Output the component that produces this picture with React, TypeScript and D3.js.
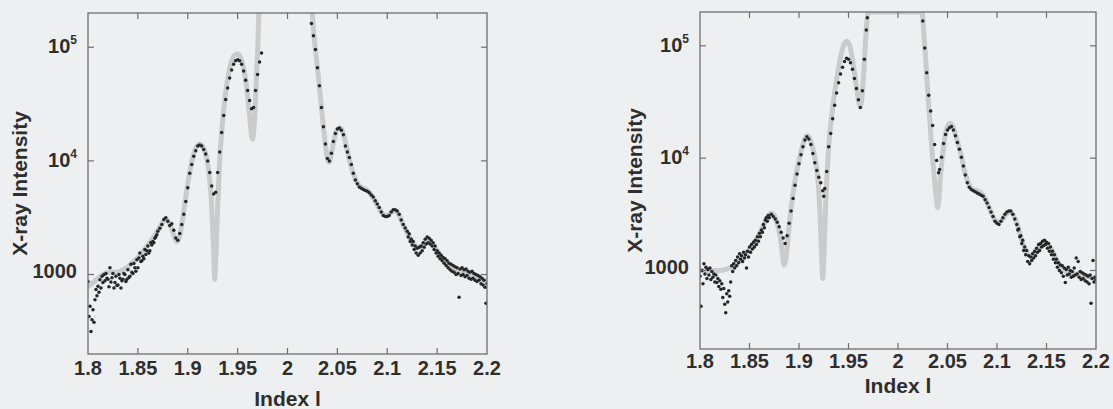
import React from "react";
import * as d3 from "d3";

const xTicks = [1.8, 1.85, 1.9, 1.95, 2, 2.05, 2.1, 2.15, 2.2];
const xTickLabels = ["1.8", "1.85", "1.9", "1.95", "2", "2.05", "2.1", "2.15", "2.2"];
const yTicks = [1000, 10000, 100000];
const yTickBase = ["1000", "10", "10"];
const yTickExp = ["", "4", "5"];
const xTitle = "Index l";
const yTitle = "X-ray Intensity";

// Left panel: measured points [index l, intensity]
const leftDots: [number, number][] = [
  [1.800, 870], [1.801, 427], [1.802, 525], [1.803, 316], [1.804, 400], [1.805, 490], [1.806, 380], [1.807, 600],
  [1.808, 740], [1.809, 650], [1.810, 790], [1.811, 700], [1.812, 900], [1.813, 760], [1.814, 965], [1.815, 850],
  [1.816, 1000], [1.817, 880], [1.818, 1020], [1.819, 930], [1.820, 910], [1.821, 780], [1.822, 1150], [1.823, 860],
  [1.824, 935], [1.825, 1020], [1.826, 760], [1.827, 850], [1.828, 965], [1.829, 800], [1.830, 810], [1.831, 1000],
  [1.832, 930], [1.833, 760], [1.834, 880], [1.835, 910], [1.836, 1020], [1.837, 1000], [1.838, 870], [1.839, 910],
  [1.840, 1100], [1.841, 940], [1.842, 965], [1.843, 1230], [1.844, 1050], [1.845, 1020], [1.846, 1250], [1.847, 1150],
  [1.848, 1070], [1.849, 1350], [1.850, 1150], [1.851, 1400], [1.852, 1550], [1.853, 1300], [1.854, 1320], [1.855, 1450],
  [1.856, 1380], [1.857, 1660], [1.858, 1500], [1.859, 1620], [1.860, 1780], [1.861, 1550], [1.862, 1620], [1.863, 1900],
  [1.864, 1820], [1.865, 1950], [1.866, 1900], [1.867, 2090], [1.868, 2150], [1.869, 2240],
  [1.870, 2400], [1.872, 2550], [1.874, 2750], [1.876, 3050], [1.878, 3160], [1.880, 2950], [1.882, 2700], [1.884, 2800],
  [1.886, 2450], [1.888, 2100], [1.890, 2000], [1.892, 2300], [1.894, 2750], [1.896, 3400], [1.898, 4400], [1.900, 5800],
  [1.902, 7800], [1.904, 9300], [1.906, 11000], [1.908, 12300], [1.910, 13500], [1.912, 13800], [1.914, 13500], [1.916, 12600],
  [1.918, 11500], [1.920, 10000], [1.922, 7900], [1.924, 6000], [1.926, 5100], [1.928, 5300], [1.930, 7900], [1.932, 12000],
  [1.934, 17800], [1.936, 25100], [1.938, 34700], [1.940, 43700], [1.942, 53700], [1.944, 63000], [1.946, 70800], [1.948, 75900],
  [1.950, 77600], [1.952, 75900], [1.954, 70800], [1.956, 61700], [1.958, 51300], [1.960, 41700], [1.962, 33900], [1.964, 28800],
  [1.966, 29500], [1.968, 41700], [1.970, 57500], [1.972, 74100], [1.974, 89000],
  [2.024, 162000], [2.026, 126000], [2.028, 95500], [2.030, 66100], [2.032, 45700], [2.034, 29500], [2.036, 20000], [2.038, 14100],
  [2.040, 10500], [2.042, 10000], [2.044, 11700], [2.046, 14800], [2.048, 17400], [2.050, 19100], [2.052, 19500], [2.054, 18600],
  [2.056, 17000], [2.058, 13500], [2.060, 12000], [2.062, 10700], [2.064, 9300], [2.066, 7800], [2.068, 6800], [2.070, 6300],
  [2.072, 5900], [2.074, 5750], [2.076, 5600], [2.078, 5500], [2.080, 5400], [2.082, 5250], [2.084, 5000], [2.086, 4800],
  [2.088, 4470], [2.090, 4170], [2.092, 3890], [2.094, 3550], [2.096, 3310], [2.098, 3240], [2.100, 3240], [2.102, 3310],
  [2.104, 3550], [2.106, 3720], [2.108, 3720], [2.110, 3630], [2.112, 3390], [2.114, 3020], [2.116, 2750], [2.118, 2570],
  [2.120, 2400], [2.121, 2140], [2.122, 2290], [2.123, 1950], [2.124, 2040], [2.125, 1820], [2.126, 1950], [2.127, 1660],
  [2.128, 1780], [2.129, 1550], [2.130, 1700], [2.131, 1480], [2.132, 1740], [2.133, 1550], [2.134, 1780], [2.135, 1620],
  [2.136, 1900], [2.137, 1740], [2.138, 2040], [2.139, 1860], [2.140, 2140], [2.141, 1900], [2.142, 2090], [2.143, 1860],
  [2.144, 2000], [2.145, 1780], [2.146, 1900], [2.147, 1660], [2.148, 1780], [2.149, 1550], [2.150, 1620], [2.151, 1450],
  [2.152, 1550], [2.153, 1380], [2.154, 1480], [2.155, 1320], [2.156, 1410], [2.157, 1260], [2.158, 1380], [2.159, 1200],
  [2.160, 1320], [2.161, 1150], [2.162, 1260], [2.163, 1100], [2.164, 1230], [2.165, 1070], [2.166, 1200], [2.167, 1050],
  [2.168, 1170], [2.169, 1000], [2.170, 1150], [2.171, 1020], [2.172, 630], [2.173, 1120], [2.174, 980], [2.175, 1150],
  [2.176, 1000], [2.177, 1100], [2.178, 955], [2.179, 1120], [2.180, 980], [2.181, 1070], [2.182, 930], [2.183, 1050],
  [2.184, 910], [2.185, 1070], [2.186, 930], [2.187, 1020], [2.188, 890], [2.189, 1000], [2.190, 870], [2.191, 980],
  [2.192, 890], [2.193, 955], [2.194, 830], [2.195, 930], [2.196, 810], [2.197, 890], [2.198, 775], [2.199, 560], [2.200, 830],
];

// Left panel: model curve
const leftFit: [number, number][] = [
  [1.800, 790], [1.805, 850], [1.810, 930], [1.815, 1000], [1.820, 1050], [1.825, 1050], [1.830, 1050], [1.835, 1100],
  [1.840, 1170], [1.845, 1290], [1.850, 1410], [1.855, 1580], [1.860, 1820], [1.865, 2090], [1.870, 2450], [1.875, 2880],
  [1.878, 3090], [1.881, 2880], [1.884, 2510], [1.887, 2090], [1.889, 1950], [1.891, 2040], [1.894, 2750], [1.897, 4170],
  [1.900, 6310], [1.904, 9770], [1.908, 12900], [1.912, 14100], [1.916, 12900], [1.919, 10500], [1.922, 6920], [1.924, 3980],
  [1.926, 1580], [1.927, 910], [1.928, 1320], [1.930, 3980], [1.932, 10000], [1.935, 22400], [1.938, 39800], [1.941, 58900],
  [1.944, 75900], [1.947, 85100], [1.950, 87100], [1.953, 81300], [1.956, 66100], [1.959, 44700], [1.962, 25100], [1.964, 16600],
  [1.965, 15500], [1.966, 17800], [1.968, 35000], [1.970, 89000], [1.972, 320000], [1.976, 2000000], [2.000, 10000000],
  [2.020, 2000000], [2.023, 400000], [2.025, 190000], [2.027, 115000], [2.030, 66100], [2.033, 36300], [2.036, 20000],
  [2.038, 13800], [2.040, 10500], [2.042, 9770], [2.044, 11500], [2.047, 15800], [2.050, 19100], [2.053, 19500], [2.056, 17400],
  [2.059, 13500], [2.062, 10200], [2.065, 8130], [2.068, 6920], [2.072, 6030], [2.076, 5750], [2.080, 5500], [2.084, 5010],
  [2.088, 4370], [2.092, 3800], [2.096, 3390], [2.100, 3310], [2.104, 3550], [2.108, 3630], [2.112, 3310], [2.116, 2750],
  [2.120, 2340], [2.125, 1950], [2.130, 1740], [2.135, 1780], [2.140, 1950], [2.145, 1860], [2.150, 1620], [2.155, 1410],
  [2.160, 1260], [2.165, 1170], [2.170, 1100], [2.175, 1070], [2.180, 1020], [2.185, 1000], [2.190, 955], [2.195, 910], [2.200, 870],
];

// Right panel: measured points
const rightDots: [number, number][] = [
  [1.800, 890], [1.801, 480], [1.802, 1000], [1.803, 760], [1.804, 1150], [1.805, 930], [1.806, 1070], [1.807, 850],
  [1.808, 1020], [1.809, 910], [1.810, 1050], [1.811, 830], [1.812, 980], [1.813, 870], [1.814, 930], [1.815, 790],
  [1.816, 910], [1.817, 780], [1.818, 850], [1.819, 720], [1.820, 810], [1.821, 680], [1.822, 760], [1.823, 575],
  [1.824, 690], [1.825, 500], [1.826, 420], [1.827, 620], [1.828, 525], [1.829, 660], [1.830, 590], [1.831, 790],
  [1.832, 1100], [1.833, 980], [1.834, 1150], [1.835, 1050], [1.836, 1230], [1.837, 1100], [1.838, 1320], [1.839, 1170],
  [1.840, 1410], [1.841, 1260], [1.842, 1350], [1.843, 1200], [1.844, 1450], [1.845, 1290], [1.846, 1380], [1.847, 1050],
  [1.848, 1480], [1.849, 1320], [1.850, 1620], [1.851, 1450], [1.852, 1700], [1.853, 1550], [1.854, 1780], [1.855, 1620],
  [1.856, 1860], [1.857, 1700], [1.858, 2000], [1.859, 1820], [1.860, 2140], [1.861, 2000], [1.862, 2290], [1.863, 2190],
  [1.864, 2570], [1.865, 2400], [1.866, 2820], [1.867, 2950], [1.868, 2750], [1.869, 3090], [1.870, 2950],
  [1.872, 3160], [1.874, 3020], [1.876, 2880], [1.878, 2690], [1.880, 2450], [1.882, 2190], [1.884, 1950], [1.886, 1740],
  [1.888, 2040], [1.890, 2630], [1.892, 3390], [1.894, 4370], [1.896, 5750], [1.898, 7240], [1.900, 8910], [1.902, 10700],
  [1.904, 12600], [1.906, 14500], [1.908, 15500], [1.910, 14800], [1.912, 13200], [1.914, 11000], [1.916, 9120], [1.918, 7760],
  [1.920, 6760], [1.922, 6030], [1.924, 5130], [1.925, 4570], [1.926, 5370], [1.928, 7590], [1.930, 12600], [1.932, 16600],
  [1.934, 22400], [1.936, 29500], [1.938, 38000], [1.940, 46800], [1.942, 56200], [1.944, 64600], [1.946, 72400], [1.948, 77600],
  [1.950, 75900], [1.952, 70800], [1.954, 61700], [1.956, 51300], [1.958, 41700], [1.960, 33100], [1.962, 28200], [1.964, 39800],
  [1.966, 75900], [1.968, 138000], [1.969, 178000],
  [2.025, 166000], [2.027, 95500], [2.029, 57500], [2.031, 36300], [2.033, 26300], [2.035, 19500], [2.037, 13200], [2.039, 9550],
  [2.041, 7410], [2.042, 7940], [2.044, 10200], [2.046, 13500], [2.048, 16200], [2.050, 17800], [2.052, 18600], [2.054, 19100],
  [2.056, 17800], [2.058, 15800], [2.060, 13800], [2.062, 12000], [2.064, 10200], [2.066, 8510], [2.068, 7080], [2.070, 6030],
  [2.072, 5500], [2.074, 5250], [2.076, 5130], [2.078, 5010], [2.080, 4900], [2.082, 4790], [2.084, 4680], [2.086, 4570],
  [2.088, 4270], [2.090, 3980], [2.092, 3630], [2.094, 3310], [2.096, 3020], [2.098, 2750], [2.100, 2630], [2.102, 2570],
  [2.104, 2750], [2.106, 2950], [2.108, 3160], [2.110, 3310], [2.112, 3390], [2.114, 3390], [2.116, 3160], [2.118, 2880],
  [2.120, 2570], [2.121, 2290], [2.122, 2340], [2.123, 2000], [2.124, 2040], [2.125, 1740], [2.126, 1860], [2.127, 1510],
  [2.128, 1620], [2.129, 1380], [2.130, 1510], [2.131, 1200], [2.132, 1350], [2.133, 1150], [2.134, 1320], [2.135, 1230],
  [2.136, 1410], [2.137, 1290], [2.138, 1480], [2.139, 1350], [2.140, 1580], [2.141, 1450], [2.142, 1700], [2.143, 1510],
  [2.144, 1740], [2.145, 1620], [2.146, 1820], [2.147, 1660], [2.148, 1860], [2.149, 1700], [2.150, 1780], [2.151, 1580],
  [2.152, 1740], [2.153, 1480], [2.154, 1620], [2.155, 1380], [2.156, 1480], [2.157, 1260], [2.158, 1380], [2.159, 1170],
  [2.160, 1260], [2.161, 1070], [2.162, 1170], [2.163, 1000], [2.164, 1120], [2.165, 955], [2.166, 1100], [2.167, 890],
  [2.168, 1050], [2.169, 780], [2.170, 1020], [2.171, 910], [2.172, 1070], [2.173, 930], [2.174, 1000], [2.175, 870],
  [2.176, 980], [2.177, 890], [2.178, 1050], [2.179, 910], [2.180, 1290], [2.181, 930], [2.182, 1200], [2.183, 870],
  [2.184, 980], [2.185, 830], [2.186, 955], [2.187, 850], [2.188, 930], [2.189, 810], [2.190, 910], [2.191, 790],
  [2.192, 890], [2.193, 760], [2.194, 910], [2.195, 510], [2.196, 850], [2.197, 1230], [2.198, 790], [2.199, 870], [2.200, 830],
];

// Right panel: model curve
const rightFit: [number, number][] = [
  [1.800, 1000], [1.810, 1000], [1.820, 1000], [1.830, 1050], [1.835, 1120], [1.840, 1230], [1.845, 1380], [1.850, 1550],
  [1.855, 1780], [1.860, 2090], [1.865, 2630], [1.869, 3090], [1.872, 3240], [1.875, 3090], [1.878, 2630], [1.881, 2000],
  [1.883, 1480], [1.885, 1120], [1.887, 1320], [1.889, 2000], [1.892, 3550], [1.896, 6310], [1.900, 9550], [1.904, 13200],
  [1.908, 15800], [1.912, 14100], [1.916, 10000], [1.919, 6610], [1.921, 3550], [1.923, 1260], [1.924, 850], [1.925, 1260],
  [1.927, 3980], [1.930, 12600], [1.934, 28200], [1.938, 50100], [1.942, 79400], [1.946, 105000], [1.948, 110000], [1.951, 102000],
  [1.954, 75900], [1.957, 50100], [1.960, 33100], [1.962, 28800], [1.964, 38000], [1.966, 70800], [1.968, 141000], [1.970, 316000],
  [1.975, 3000000], [2.000, 10000000], [2.020, 1000000], [2.024, 251000], [2.027, 100000], [2.030, 39800], [2.034, 12600],
  [2.037, 6310], [2.039, 4170], [2.040, 3630], [2.041, 3980], [2.043, 7080], [2.046, 12600], [2.050, 19100], [2.053, 20400],
  [2.056, 18600], [2.060, 14100], [2.064, 10500], [2.068, 7240], [2.072, 5750], [2.076, 5250], [2.080, 5130], [2.084, 4900],
  [2.088, 4370], [2.092, 3630], [2.096, 3020], [2.100, 2690], [2.104, 2750], [2.108, 3090], [2.112, 3310], [2.116, 3160],
  [2.120, 2630], [2.125, 1860], [2.130, 1450], [2.135, 1350], [2.140, 1510], [2.145, 1700], [2.150, 1740], [2.155, 1550],
  [2.160, 1260], [2.165, 1070], [2.170, 980], [2.175, 930], [2.180, 930], [2.185, 910], [2.190, 890], [2.195, 870], [2.200, 850],
];

type Box = {
  left: number; right: number; top: number; bottom: number;
  tickBase: number; titleBase: number; yTitleX: number; id: string; clampFit: boolean;
};

const FONT = "'Liberation Sans', Arial, Helvetica, sans-serif";
const AXIS = "#6e6e6e";
const TEXT = "#2e2e2e";

function Panel({ dots, fit, box }: { dots: [number, number][]; fit: [number, number][]; box: Box }) {
  const x = d3.scaleLinear().domain([1.8, 2.2]).range([box.left, box.right]);
  const y = d3.scaleLog().domain([200, 200000]).range([box.bottom, box.top]);
  const yf = box.clampFit ? y.copy().clamp(true) : y;
  const line = d3
    .line<[number, number]>()
    .x((d) => x(d[0]))
    .y((d) => yf(d[1]))
    .curve(d3.curveMonotoneX);
  const tl = 6;
  const cx = (box.left + box.right) / 2;
  const cy = (box.top + box.bottom) / 2;
  return (
    <g>
      <defs>
        <clipPath id={box.id}>
          <rect x={box.left} y={box.top} width={box.right - box.left} height={box.bottom - box.top} />
        </clipPath>
      </defs>
      <g clipPath={`url(#${box.id})`}>
        <path d={line(fit) || ""} fill="none" stroke="#cbcbcb" strokeWidth={5} strokeLinejoin="round" strokeLinecap="round" />
        {dots.map((d, i) => (
          <circle key={i} cx={x(d[0])} cy={y(d[1])} r={1.75} fill="#262626" />
        ))}
      </g>
      <rect x={box.left} y={box.top} width={box.right - box.left} height={box.bottom - box.top} fill="none" stroke={AXIS} strokeWidth={1.3} />
      {xTicks.slice(1, -1).map((t) => (
        <g key={"xt" + t}>
          <line x1={x(t)} x2={x(t)} y1={box.bottom} y2={box.bottom - tl} stroke={AXIS} strokeWidth={1.2} />
          <line x1={x(t)} x2={x(t)} y1={box.top} y2={box.top + tl} stroke={AXIS} strokeWidth={1.2} />
        </g>
      ))}
      {yTicks.map((t) => (
        <g key={"yt" + t}>
          <line x1={box.left} x2={box.left + tl} y1={y(t)} y2={y(t)} stroke={AXIS} strokeWidth={1.2} />
          <line x1={box.right} x2={box.right - tl} y1={y(t)} y2={y(t)} stroke={AXIS} strokeWidth={1.2} />
        </g>
      ))}
      {xTicks.map((t, i) => (
        <text key={"xl" + t} x={x(t)} y={box.tickBase} textAnchor="middle" fontFamily={FONT} fontWeight="bold" fontSize={20} fill={TEXT}>
          {xTickLabels[i]}
        </text>
      ))}
      {yTicks.map((t, i) => (
        <text
          key={"yl" + t}
          x={box.left - 11}
          y={y(t) + (yTickExp[i] ? 6 : 3.5)}
          textAnchor="end"
          fontFamily={FONT}
          fontWeight="bold"
          fontSize={20}
          fill={TEXT}
        >
          <tspan>{yTickBase[i]}</tspan>
          {yTickExp[i] ? (
            <tspan dy={-9} fontSize={12}>
              {yTickExp[i]}
            </tspan>
          ) : null}
        </text>
      ))}
      <text x={cx} y={box.titleBase} textAnchor="middle" fontFamily={FONT} fontWeight="bold" fontSize={21} fill={TEXT}>
        {xTitle}
      </text>
      <text
        transform={`translate(${box.yTitleX},${cy}) rotate(-90)`}
        textAnchor="middle"
        fontFamily={FONT}
        fontWeight="bold"
        fontSize={21}
        fill={TEXT}
      >
        {yTitle}
      </text>
    </g>
  );
}

const leftBox: Box = { left: 88, right: 487, top: 13, bottom: 354, tickBase: 375, titleBase: 406, yTitleX: 27, id: "clipL", clampFit: false };
const rightBox: Box = { left: 700, right: 1096, top: 12, bottom: 349, tickBase: 368, titleBase: 393, yTitleX: 642, id: "clipR", clampFit: true };

export default function App() {
  return (
    <div style={{ position: "fixed", left: 0, top: 0, width: 1113, height: 409, overflow: "hidden" }}>
      <svg width={1113} height={409} style={{ display: "block" }}>
        <rect x={0} y={0} width={1113} height={409} fill="#eeeff0" />
        <Panel dots={leftDots} fit={leftFit} box={leftBox} />
        <Panel dots={rightDots} fit={rightFit} box={rightBox} />
      </svg>
    </div>
  );
}
